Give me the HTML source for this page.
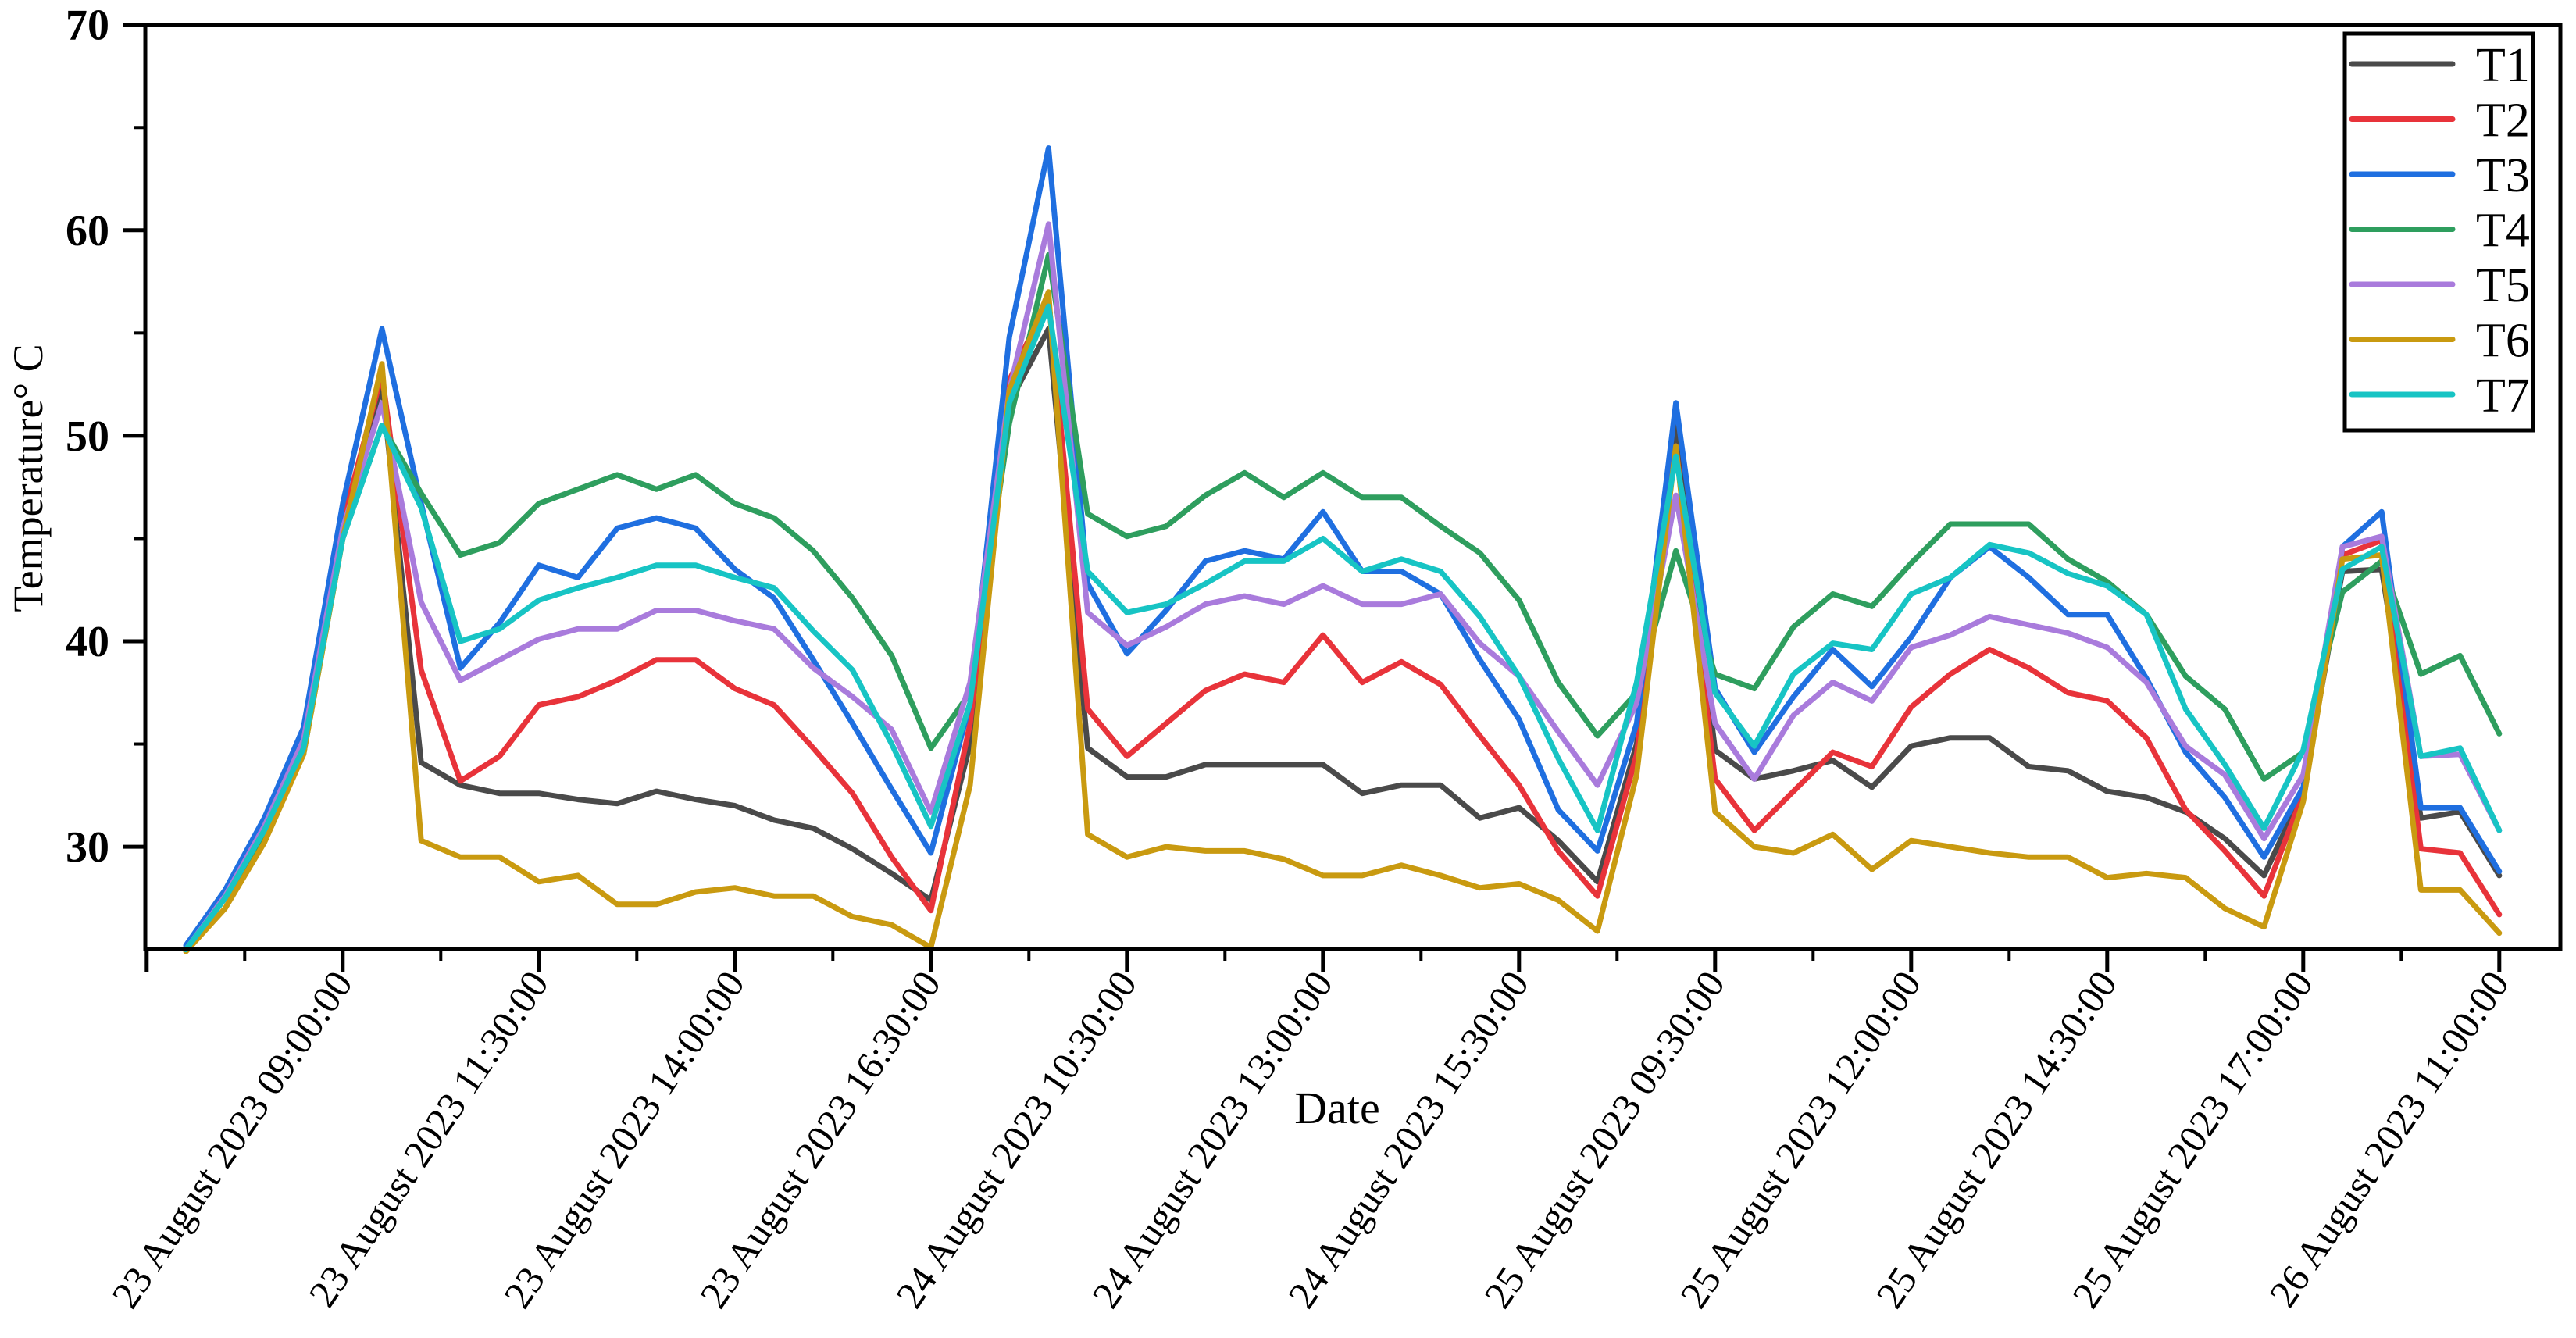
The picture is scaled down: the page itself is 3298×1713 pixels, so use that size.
<!DOCTYPE html>
<html><head><meta charset="utf-8"><style>
html,body{margin:0;padding:0;background:#fff;}
svg{display:block;}
</style></head><body>
<svg id="chart" width="3298" height="1713" viewBox="0 0 3298 1713" xmlns="http://www.w3.org/2000/svg">
<rect x="0" y="0" width="3298" height="1713" fill="#fff"/>
<g id="grid-ticks"></g>
<g id="series"></g>
<rect x="186" y="32" width="3092" height="1183" fill="none" stroke="#000" stroke-width="5"/>
<g id="ylabels"></g>
<g id="xlabels"></g>
<text x="0" y="0" transform="translate(54,612) rotate(-90)" text-anchor="middle" font-family="Liberation Serif, serif" font-size="54" fill="#000">Temperature° C</text>
<text x="1712" y="1438" text-anchor="middle" font-family="Liberation Serif, serif" font-size="58" fill="#000">Date</text>
<g id="legend"></g>
</svg>
<script>
const seriesNames = ["T1","T2","T3","T4","T5","T6","T7"];
const seriesColors = ["#4a4a4a","#e8333a","#1f6fe0","#2e9e5e","#a97bdc","#c99a10","#17c4c4"];
const t1 = [25.1,27.6,30.8,35,45.5,52.5, 34.1,33.0,32.6,32.6,32.3,32.1,32.7,32.3,32.0,31.3,30.9,29.9,28.7,27.4, 35,51.6,55.2,34.8,33.4,33.4,34.0,34.0,34.0,34.0,32.6,33.0,33.0,31.4,31.9,30.3,28.3,35, 50.6,34.7,33.3,33.7,34.2,32.9,34.9,35.3,35.3,33.9,33.7,32.7,32.4,31.7,30.4,28.6,32.7,43.4,43.5,31.4,31.7,28.6];
const t2 = [25,27.5,30.7,35,45.8,53, 38.6,33.2,34.4,36.9,37.3,38.1,39.1,39.1,37.7,36.9,34.8,32.6,29.5,26.9, 36,52.7,56.7,36.7,34.4,36.0,37.6,38.4,38.0,40.3,38.0,39.0,37.9,35.4,33.0,29.8,27.6,34.5, 49.5,33.3,30.8,32.7,34.6,33.9,36.8,38.4,39.6,38.7,37.5,37.1,35.3,31.8,29.8,27.6,32.6,44.2,44.9,29.9,29.7,26.7];
const t3 = [25.2,27.9,31.4,35.8,46.7,55.2, 46.7,38.7,40.9,43.7,43.1,45.5,46.0,45.5,43.5,42.1,39.1,36.0,32.8,29.7, 37,54.8,64.0,42.8,39.4,41.5,43.9,44.4,44.0,46.3,43.4,43.4,42.3,39.1,36.2,31.8,29.8,36, 51.6,37.7,34.6,37.3,39.6,37.8,40.2,43.1,44.6,43.1,41.3,41.3,38.2,34.6,32.4,29.5,32.9,44.6,46.3,31.9,31.9,28.8];
const t4 = [25,27.5,30.5,34.5,45,50.5, 47.2,44.2,44.8,46.7,47.4,48.1,47.4,48.1,46.7,46.0,44.4,42.1,39.3,34.8, 37.5,50.6,58.8,46.2,45.1,45.6,47.1,48.2,47.0,48.2,47.0,47.0,45.6,44.3,42.0,38.0,35.4,37.5, 44.4,38.4,37.7,40.7,42.3,41.7,43.8,45.7,45.7,45.7,44.0,42.9,41.3,38.3,36.7,33.3,34.6,42.4,43.9,38.4,39.3,35.5];
const t5 = [25,27.6,31,35.2,45.5,51.6, 41.9,38.1,39.1,40.1,40.6,40.6,41.5,41.5,41.0,40.6,38.7,37.3,35.7,31.7, 38,52.2,60.3,41.4,39.8,40.7,41.8,42.2,41.8,42.7,41.8,41.8,42.3,39.9,38.3,35.6,33.0,37, 47.1,36.0,33.3,36.4,38.0,37.1,39.7,40.3,41.2,40.8,40.4,39.7,38.0,34.9,33.5,30.4,33.5,44.6,45.1,34.4,34.5,30.8];
const t6 = [24.9,27,30.2,34.5,45,53.5, 30.3,29.5,29.5,28.3,28.6,27.2,27.2,27.8,28.0,27.6,27.6,26.6,26.2,25.1, 33,52.2,57,30.6,29.5,30.0,29.8,29.8,29.4,28.6,28.6,29.1,28.6,28.0,28.2,27.4,25.9,33.5, 49.5,31.7,30.0,29.7,30.6,28.9,30.3,30.0,29.7,29.5,29.5,28.5,28.7,28.5,27.0,26.1,32.2,44.0,44.2,27.9,27.9,25.8];
const t7 = [25,27.5,30.8,34.8,45,50.5, 46.5,40.0,40.6,42.0,42.6,43.1,43.7,43.7,43.1,42.6,40.5,38.6,35.0,31.0, 37,51.6,56.3,43.4,41.4,41.8,42.8,43.9,43.9,45.0,43.4,44.0,43.4,41.2,38.3,34.3,30.8,38, 49,37.5,34.9,38.4,39.9,39.6,42.3,43.1,44.7,44.3,43.3,42.7,41.3,36.7,34.0,30.9,34.7,43.5,44.6,34.4,34.8,30.8];
const tickIndices = [4,9,14,19,24,29,34,39,44,49,54,59];
const tickLabels = ["23 August 2023 09:00:00","23 August 2023 11:30:00","23 August 2023 14:00:00","23 August 2023 16:30:00","24 August 2023 10:30:00","24 August 2023 13:00:00","24 August 2023 15:30:00","25 August 2023 09:30:00","25 August 2023 12:00:00","25 August 2023 14:30:00","25 August 2023 17:00:00","26 August 2023 11:00:00"];
const yTicks = [30,40,50,60,70];
const yMinorTicks = [35,45,55,65];

const NS = "http://www.w3.org/2000/svg";
const allSeries = [t1,t2,t3,t4,t5,t6,t7];
function xPos(i){ return 238 + i*50.2; }
function yPos(v){ return 31.7 + (70 - v)*26.31; }
function mk(tag, attrs, parent){ const e=document.createElementNS(NS,tag); for(const k in attrs) e.setAttribute(k, attrs[k]); parent.appendChild(e); return e; }

const gT = document.getElementById("grid-ticks");
const gY = document.getElementById("ylabels");
yTicks.forEach(v=>{
  const y=yPos(v);
  const t=mk("line",{x1:158,x2:186,y1:y,y2:y,stroke:"#000","stroke-width":5},gT);
  
  
  const l=mk("text",{x:140,y:y+19,"text-anchor":"end","font-family":"Liberation Serif, serif","font-weight":"bold","font-size":56,fill:"#000"},gY);
  l.textContent=v;
  
  
});
yMinorTicks.forEach(v=>{
  const y=yPos(v);
  const t=mk("line",{x1:171,x2:186,y1:y,y2:y,stroke:"#000","stroke-width":4},gT);
  
  
});
const gX = document.getElementById("xlabels");
tickIndices.forEach((idx,k)=>{
  const x=xPos(idx);
  const t=mk("line",{x1:x,x2:x,y1:1215,y2:1245,stroke:"#000","stroke-width":5},gT);
  
  
  const mx=xPos(idx-2.5);
  const m=mk("line",{x1:mx,x2:mx,y1:1215,y2:1230,stroke:"#000","stroke-width":4},gT);
  
  
  const lx=x+14, ly=1258;
  const l=mk("text",{x:lx,y:ly,"text-anchor":"end","font-family":"Liberation Serif, serif","font-size":50,fill:"#000",transform:"rotate(-56 "+lx+" "+ly+")"},gX);
  l.textContent=tickLabels[k];
  
  
});
{
  const x=xPos(-1);
  const t=mk("line",{x1:x,x2:x,y1:1215,y2:1245,stroke:"#000","stroke-width":5},gT);
  
  
}
const gS=document.getElementById("series");
allSeries.forEach((arr,s)=>{
  const pts=arr.map((v,i)=>xPos(i).toFixed(1)+","+yPos(v).toFixed(1)).join(" ");
  const p=mk("polyline",{points:pts,fill:"none",stroke:seriesColors[s],"stroke-width":7,"stroke-linejoin":"round","stroke-linecap":"round"},gS);
  
  
});
const gL=document.getElementById("legend");
const box=mk("rect",{x:3002,y:43,width:241,height:508,fill:"#fff",stroke:"#000","stroke-width":5},gL);


seriesNames.forEach((n,s)=>{
  const y=82+s*70.5;
  const ln=mk("line",{x1:3011,x2:3140,y1:y,y2:y,stroke:seriesColors[s],"stroke-width":7,"stroke-linecap":"round"},gL);
  
  
  const tx=mk("text",{x:3170,y:y+22,"font-family":"Liberation Serif, serif","font-size":62,fill:"#000"},gL);
  tx.textContent=n;
  
  
});
</script>
</body></html>
